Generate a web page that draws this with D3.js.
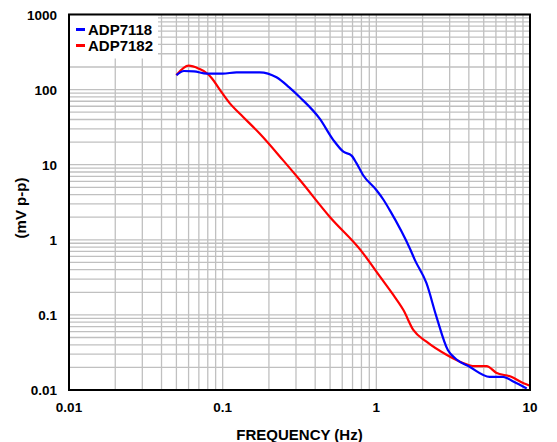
<!DOCTYPE html>
<html>
<head>
<meta charset="utf-8">
<script src="https://cdn.jsdelivr.net/npm/d3@7"></script>
<style>
  body { margin: 0; background: #fff; }
  text { font-family: "Liberation Sans", Arial, sans-serif; font-weight: bold; fill: #000; }
</style>
</head>
<body>
<div id="myChart"></div>
<script>
// data
const seriesNames = ["ADP7118", "ADP7182"];
const seriesColors = ["#0000ff", "#ff0000"];

const adp7118Freq = [0.05, 0.056, 0.065, 0.079, 0.1, 0.123, 0.174, 0.224, 0.27, 0.318, 0.428, 0.525, 0.61, 0.69, 0.744, 0.819, 1.0, 1.11, 1.22, 1.67, 1.78, 2.12, 2.46, 2.92, 3.31, 4.04, 5.46, 6.68, 7.78, 9.52];
const adp7118Val  = [156, 177, 175, 163, 163, 170, 170, 146, 108, 79, 41, 21.3, 14.9, 13.2, 10.4, 7.3, 4.6, 3.44, 2.5, 0.73, 0.54, 0.264, 0.095, 0.034, 0.0257, 0.0204, 0.015, 0.015, 0.013, 0.0105];

const adp7182Freq = [0.05, 0.06, 0.07, 0.079, 0.085, 0.096, 0.111, 0.129, 0.174, 0.246, 0.318, 0.5, 0.79, 1.06, 1.3, 1.5, 1.74, 2.12, 2.88, 3.5, 4.38, 5.22, 6.02, 7.48, 9.08, 10];
const adp7182Val  = [156, 208, 190, 165, 142, 99, 66, 48, 26, 11.6, 6.25, 2.0, 0.73, 0.32, 0.18, 0.116, 0.063, 0.044, 0.0292, 0.0238, 0.0208, 0.0208, 0.017, 0.0151, 0.0123, 0.0114];

const xTicks = [0.01, 0.1, 1, 10];
const yTicks = [0.01, 0.1, 1, 10, 100, 1000];

const W = 557, H = 442;
const margin = {top: 14.5, right: 27, bottom: 52, left: 69};
const width = W - margin.left - margin.right,
      height = H - margin.top - margin.bottom;

const svg = d3.select("#myChart")
  .append("svg")
    .attr("width", W)
    .attr("height", H)
  .append("g")
    .attr("transform", `translate(${margin.left},${margin.top})`);

const x = d3.scaleLog().domain([0.01, 10]).range([0, width]);
const y = d3.scaleLog().domain([0.01, 1000]).range([height, 0]);

// minor + major grid values (1..9 per decade)
const gridX = [], gridY = [];
for (let e = -2; e < 1; e++) for (let m = 1; m < 10; m++) gridX.push(m * Math.pow(10, e));
gridX.push(10);
for (let e = -2; e < 3; e++) for (let m = 1; m < 10; m++) gridY.push(m * Math.pow(10, e));
gridY.push(1000);

svg.append("g")
  .selectAll("line")
  .data(gridX)
  .join("line")
    .attr("x1", d => x(d)).attr("x2", d => x(d))
    .attr("y1", 0).attr("y2", height)
    .attr("stroke", "#c0c0c0")
    .attr("stroke-width", 1.3);

svg.append("g")
  .selectAll("line")
  .data(gridY)
  .join("line")
    .attr("x1", 0).attr("x2", width)
    .attr("y1", d => y(d)).attr("y2", d => y(d))
    .attr("stroke", "#c0c0c0")
    .attr("stroke-width", 1.3);

// legend background hides the grid
svg.append("rect")
  .attr("x", 0).attr("y", 0)
  .attr("width", 89).attr("height", 44)
  .attr("fill", "#fff");

// curves
const line = d3.line()
  .x(d => x(d[0]))
  .y(d => y(d[1]))
  .curve(d3.curveMonotoneX);

const series = [
  d3.zip(adp7118Freq, adp7118Val),
  d3.zip(adp7182Freq, adp7182Val)
];

svg.selectAll(".curve")
  .data([series[1], series[0]])
  .join("path")
    .attr("class", "curve")
    .attr("fill", "none")
    .attr("stroke", (d, i) => i === 0 ? seriesColors[1] : seriesColors[0])
    .attr("stroke-width", 2.2)
    .attr("stroke-linejoin", "round")
    .attr("d", line);

// frame
svg.append("rect")
  .attr("x", 0).attr("y", 0)
  .attr("width", width).attr("height", height)
  .attr("fill", "none")
  .attr("stroke", "#000")
  .attr("stroke-width", 2);

// tick labels
const fmt = d => d >= 1 ? d3.format("d")(d) : String(d);
svg.append("g")
  .selectAll("text")
  .data(xTicks)
  .join("text")
    .attr("x", d => x(d))
    .attr("y", height + 22)
    .attr("text-anchor", "middle")
    .style("font-size", "13.5px")
    .text(fmt);

svg.append("g")
  .selectAll("text")
  .data(yTicks)
  .join("text")
    .attr("x", -12)
    .attr("y", d => y(d) + 5)
    .attr("text-anchor", "end")
    .style("font-size", "13.5px")
    .text(fmt);

// axis titles
svg.append("text")
  .attr("x", width / 2)
  .attr("y", height + 50)
  .attr("text-anchor", "middle")
  .style("font-size", "15px")
  .text("FREQUENCY (Hz)");

svg.append("text")
  .attr("transform", `translate(${26 - margin.left},${208 - margin.top}) rotate(-90)`)
  .attr("text-anchor", "middle")
  .style("font-size", "15px")
  .text("(mV p-p)");

// legend
const legend = svg.append("g");
legend.selectAll("line")
  .data(seriesNames)
  .join("line")
    .attr("x1", 7).attr("x2", 16)
    .attr("y1", (d, i) => 15 + i * 16)
    .attr("y2", (d, i) => 15 + i * 16)
    .attr("stroke", (d, i) => seriesColors[i])
    .attr("stroke-width", 3);

legend.selectAll("text")
  .data(seriesNames)
  .join("text")
    .attr("x", 19)
    .attr("y", (d, i) => 20 + i * 16)
    .style("font-size", "15px")
    .text(d => d);
</script>
</body>
</html>
